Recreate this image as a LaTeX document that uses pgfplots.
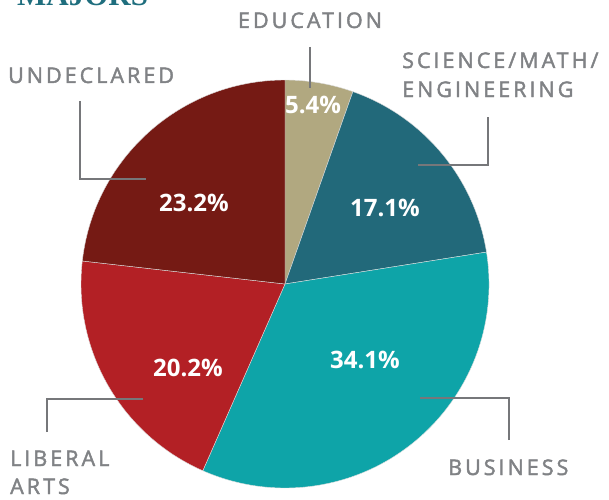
\documentclass[border=0pt]{standalone}
\usepackage{fontspec}
\usepackage{pgfplots}
\usepackage{pgfplotstable}
\pgfplotsset{compat=1.18}
\setmainfont{Open Sans}
\newfontfamily\labfont[LetterSpace=14,FakeBold=2]{Open Sans}
\newfontfamily\pctfont{Open Sans}
\newfontfamily\titlefont{Liberation Serif}
\definecolor{pie0}{HTML}{B1A880}
\definecolor{pie1}{HTML}{22697A}
\definecolor{pie2}{HTML}{0EA4A8}
\definecolor{pie3}{HTML}{B32025}
\definecolor{pie4}{HTML}{751A14}
\definecolor{labgray}{HTML}{808285}
\definecolor{linegray}{HTML}{76777A}
\definecolor{titleteal}{HTML}{1F6E7E}
\pgfplotstableread{
major value
Education 5.4
Science 17.1
Business 34.1
Liberal 20.2
Undeclared 23.2
}\piedata
\begin{document}
\begin{tikzpicture}
\begin{axis}[at={(0,0)},anchor=south west,scale only axis,
  width=609pt,height=499pt,xmin=0,xmax=609,ymin=0,ymax=499,
  hide axis,clip=false]
\def\cum{0}
\pgfplotsforeachungrouped \i in {0,...,4}{%
  \pgfplotstablegetelem{\i}{value}\of\piedata
  \let\v\pgfplotsretval
  \pgfmathsetmacro\a{90-3.6*\cum}%
  \pgfmathsetmacro\b{90-3.6*(\cum+\v)}%
  \pgfmathsetmacro\cum{\cum+\v}%
  \edef\temp{\noexpand\fill[pie\i,draw=white!75!gray,line width=0.4pt]
    (axis cs:285,215) -- ++(\a:204pt) arc[start angle=\a,end angle=\b,radius=204pt] -- cycle;}%
  \temp
}
% leader lines
\draw[linegray,line width=1.4pt] (axis cs:310,452) -- (axis cs:310,411);
\draw[linegray,line width=1.4pt] (axis cs:488,382) -- (axis cs:488,334) -- (axis cs:418,334);
\draw[linegray,line width=1.4pt] (axis cs:80,398) -- (axis cs:80,320) -- (axis cs:146,320);
\draw[linegray,line width=1.4pt] (axis cs:47,67) -- (axis cs:47,100) -- (axis cs:143,100);
\draw[linegray,line width=1.4pt] (axis cs:509,59) -- (axis cs:509,101) -- (axis cs:420,101);
% percent labels
\node[white,font=\pctfont\bfseries\fontsize{24}{28}\selectfont] at (axis cs:313,394) {5.4\%};
\node[white,font=\pctfont\bfseries\fontsize{24}{28}\selectfont] at (axis cs:385,291) {17.1\%};
\node[white,font=\pctfont\bfseries\fontsize{24}{28}\selectfont] at (axis cs:365,139) {34.1\%};
\node[white,font=\pctfont\bfseries\fontsize{24}{28}\selectfont] at (axis cs:188,131) {20.2\%};
\node[white,font=\pctfont\bfseries\fontsize{24}{28}\selectfont] at (axis cs:194,296) {23.2\%};
% category labels
\node[labgray,anchor=base,inner sep=0pt,font=\labfont\fontsize{21.5}{25}\selectfont] at (axis cs:310,471) {EDUCATION};
\node[labgray,anchor=base west,inner sep=0pt,font=\labfont\fontsize{21.5}{25}\selectfont] at (axis cs:402,431) {SCIENCE/MATH/};
\node[labgray,anchor=base west,inner sep=0pt,font=\labfont\fontsize{21.5}{25}\selectfont] at (axis cs:402,402) {ENGINEERING};
\node[labgray,anchor=base west,inner sep=0pt,font=\labfont\fontsize{21.5}{25}\selectfont] at (axis cs:8,416) {UNDECLARED};
\node[labgray,anchor=base west,inner sep=0pt,font=\labfont\fontsize{21.5}{25}\selectfont] at (axis cs:10,33) {LIBERAL};
\node[labgray,anchor=base west,inner sep=0pt,font=\labfont\fontsize{21.5}{25}\selectfont] at (axis cs:10,5) {ARTS};
\node[labgray,anchor=base west,inner sep=0pt,font=\labfont\fontsize{21.5}{25}\selectfont] at (axis cs:448,24) {BUSINESS};
\node[titleteal,anchor=base west,inner sep=0pt,font=\titlefont\bfseries\fontsize{31}{36}\selectfont] at (axis cs:17,493) {MAJORS};
\end{axis}
\pgfresetboundingbox
\useasboundingbox (0,0) rectangle (609pt,499pt);
\end{tikzpicture}
\end{document}
